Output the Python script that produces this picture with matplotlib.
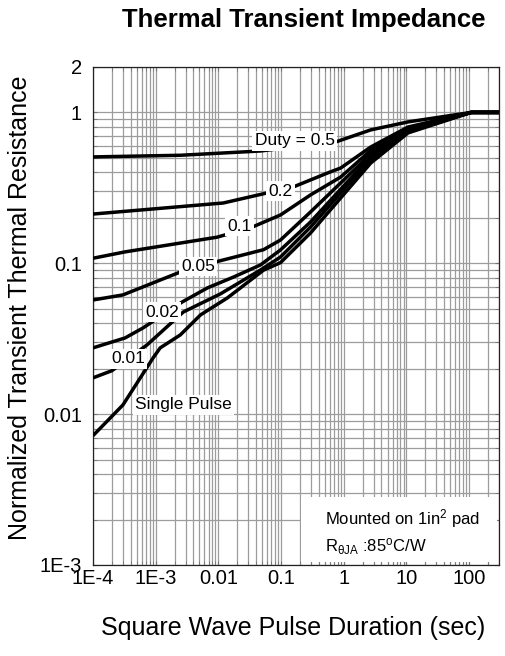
import matplotlib
matplotlib.use("Agg")

import matplotlib.pyplot as plt
import matplotlib.ticker as mticker
from matplotlib.patches import Rectangle


plt.rcParams["font.family"] = ["Liberation Sans", "DejaVu Sans"]
plt.rcParams["mathtext.fontset"] = "custom"
plt.rcParams["mathtext.rm"] = "Liberation Sans"
plt.rcParams["mathtext.it"] = "Liberation Sans"

# pulse duration (s) vs normalized transient thermal resistance
t_single = [1e-4, 3e-4, 9.1e-4, 1.18e-3, 2.47e-3, 5.2e-3, 0.0139, 0.0525, 0.098, 0.296, 2.7, 10.6, 108, 300]
z_single = [0.0072, 0.0115, 0.0236, 0.0275, 0.0335, 0.0455, 0.0589, 0.090, 0.101, 0.159, 0.462, 0.731, 1.0, 1.0]

t_d001 = [1e-4, 2e-4, 7.3e-4, 2.75e-3, 0.0108, 0.047, 0.098, 0.296, 2.7, 10.6, 108, 300]
z_d001 = [0.0174, 0.0194, 0.0288, 0.0475, 0.0627, 0.0903, 0.110, 0.174, 0.49, 0.75, 1.0, 1.0]

t_d002 = [1e-4, 3.25e-4, 6.3e-4, 2.65e-3, 6.7e-3, 0.0174, 0.047, 0.098, 0.296, 2.7, 10.6, 108, 300]
z_d002 = [0.0275, 0.032, 0.0373, 0.0554, 0.0687, 0.081, 0.0975, 0.1226, 0.188, 0.51, 0.76, 1.0, 1.0]

t_d005 = [1e-4, 3e-4, 2.47e-3, 8.95e-3, 0.0525, 0.098, 0.296, 2.7, 10.6, 108, 300]
z_d005 = [0.0571, 0.0617, 0.0875, 0.102, 0.123, 0.1426, 0.219, 0.53, 0.77, 1.0, 1.0]

t_d01 = [1e-4, 3.25e-4, 9.6e-3, 0.035, 0.098, 0.296, 0.895, 2.7, 10.6, 108, 300]
z_d01 = [0.108, 0.119, 0.149, 0.174, 0.209, 0.284, 0.373, 0.56, 0.78, 1.0, 1.0]

t_d02 = [1e-4, 0.012, 0.158, 0.555, 0.895, 2.7, 10.6, 108, 300]
z_d02 = [0.212, 0.251, 0.321, 0.397, 0.428, 0.59, 0.80, 1.0, 1.0]

t_d05 = [1e-4, 2.5e-3, 0.047, 0.745, 2.7, 10.6, 108, 300]
z_d05 = [0.507, 0.52, 0.555, 0.637, 0.766, 0.865, 1.0, 1.0]

# curve labels: text and the (t, Z) spot where each sits on its curve
label_text = ["Duty = 0.5", "0.2", "0.1", "0.05", "0.02", "0.01", "Single Pulse"]
label_t = [0.164, 0.098, 0.0217, 0.00479, 1.27e-3, 3.63e-4, 2.75e-3]
label_z = [0.647, 0.301, 0.1766, 0.0946, 0.0475, 0.0232, 0.0115]

x_ticks = [1e-4, 1e-3, 1e-2, 1e-1, 1, 10, 100]
x_ticklabels = ["1E-4", "1E-3", "0.01", "0.1", "1", "10", "100"]
y_ticks = [1e-3, 1e-2, 1e-1, 1, 2]
y_ticklabels = ["1E-3", "0.01", "0.1", "1", "2"]


def main():
    fig = plt.figure(figsize=(5.05, 6.56), dpi=100)
    ax = fig.add_axes([93 / 505, 1 - 565 / 656, 406 / 505, 498 / 656])

    ax.set_xscale("log")
    ax.set_yscale("log")
    ax.set_xlim(1e-4, 300)
    ax.set_ylim(1e-3, 2)

    for t, z in [(t_single, z_single), (t_d001, z_d001), (t_d002, z_d002),
                 (t_d005, z_d005), (t_d01, z_d01), (t_d02, z_d02), (t_d05, z_d05)]:
        ax.plot(t, z, color="black", lw=2.5, solid_capstyle="butt", zorder=3)

    for txt, t, z in zip(label_text, label_t, label_z):
        ax.text(t, z, txt, fontsize=12.5, ha="center", va="center", zorder=5,
                bbox=dict(facecolor="white", edgecolor="none", pad=1.5))

    ax.xaxis.set_major_locator(mticker.FixedLocator(x_ticks))
    ax.xaxis.set_major_formatter(mticker.FixedFormatter(x_ticklabels))
    ax.xaxis.set_minor_locator(mticker.LogLocator(base=10, subs=range(2, 10), numticks=20))
    ax.xaxis.set_minor_formatter(mticker.NullFormatter())
    ax.yaxis.set_major_locator(mticker.FixedLocator(y_ticks))
    ax.yaxis.set_major_formatter(mticker.FixedFormatter(y_ticklabels))
    ax.yaxis.set_minor_locator(mticker.LogLocator(base=10, subs=range(2, 10), numticks=20))
    ax.yaxis.set_minor_formatter(mticker.NullFormatter())

    ax.grid(which="both", color="#9c9c9c", lw=0.9)
    ax.set_axisbelow(True)
    ax.tick_params(which="both", direction="in", length=3, color="#777777",
                   top=True, right=True)
    ax.tick_params(axis="x", labelsize=14.5, pad=3)
    ax.tick_params(axis="y", labelsize=14.5, pad=8)
    for sp in ax.spines.values():
        sp.set_linewidth(0.9)
        sp.set_color("#222222")

    # mounting note in the lower right corner
    ax.add_patch(Rectangle((0.512, 0.006), 0.482, 0.131, transform=ax.transAxes,
                           facecolor="white", edgecolor="none", zorder=2))
    ax.text(0.572, 0.093, "Mounted on 1in$^{2}$ pad", transform=ax.transAxes,
            fontsize=12, va="center", zorder=4)
    ax.text(0.572, 0.037, r"R$_{\theta JA}$ :85$^{o}$C/W", transform=ax.transAxes,
            fontsize=12, va="center", zorder=4)

    fig.text(304 / 505, 1 - 20 / 656, "Thermal Transient Impedance",
             fontsize=18.5, fontweight="bold", ha="center", va="center")
    fig.text(20 / 505, 1 - 308 / 656, "Normalized Transient Thermal Resistance",
             fontsize=18, rotation=90, ha="center", va="center")
    fig.text(293 / 505, 1 - 628 / 656, "Square Wave Pulse Duration (sec)",
             fontsize=18, ha="center", va="center")

    fig.savefig("out.png", dpi=100)
    plt.close(fig)


if __name__ == "__main__":
    main()
